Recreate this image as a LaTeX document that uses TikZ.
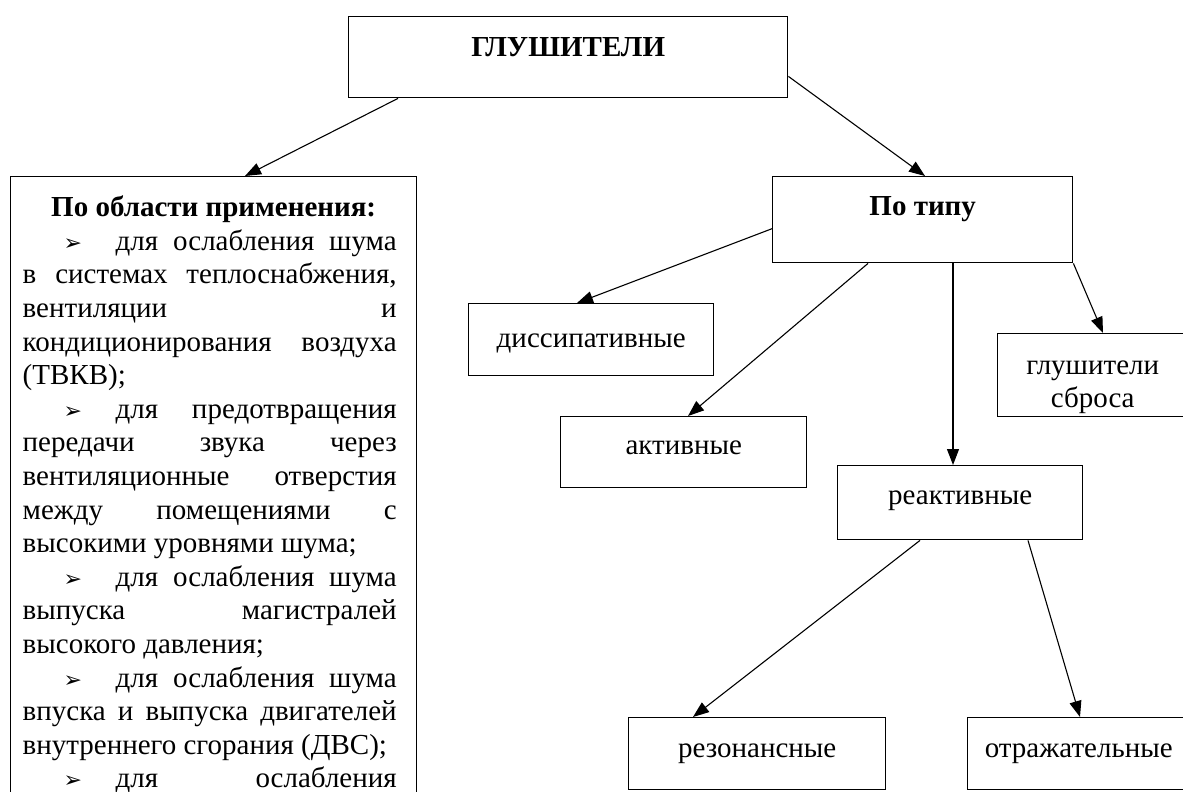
\documentclass[tikz,border=0pt]{standalone}
\usepackage{fontspec}
\setmainfont{Liberation Serif}
\newfontfamily\arrowfont{DejaVu Sans}
\usetikzlibrary{arrows.meta}

\newcommand{\bul}{\leavevmode\hspace*{41pt}\makebox[52pt][l]{\arrowfont\fontsize{22pt}{22pt}\selectfont ➢}}

\begin{document}
\begin{tikzpicture}
                [x=1pt, y=-1pt,
                 box/.style={draw, line width=1.4pt, inner sep=0pt, anchor=north west, font=\rmfamily\fontsize{29pt}{33.6pt}\selectfont},
                 arr/.style={draw, line width=1.1pt, -{Triangle[length=16pt, width=12pt]}}]
                \useasboundingbox (0,0) rectangle (1183,792);
                \clip (0,0) rectangle (1183,792);
                % Define nodes
                \node[box, minimum width=439pt, text height=40pt, text depth=41pt] (glush) at (348,16) {\bfseries ГЛУШИТЕЛИ};
                \node[box, text width=382pt, inner xsep=12pt, inner ysep=16pt, align=justify] (oblast) at (10,176) {%
                    \rightskip=8pt \parindent=0pt \tolerance=10000 \hbadness=10000 \hyphenpenalty=10000
                    \centerline{\rule{0pt}{24pt}\bfseries По области применения:}
                    \bul для ослабления шума\linebreak
                    в системах теплоснабжения,\linebreak
                    вентиляции и\linebreak
                    кондиционирования воздуха\linebreak
                    (ТВКВ);\par
                    \bul для предотвращения\linebreak
                    передачи звука через\linebreak
                    вентиляционные отверстия\linebreak
                    между помещениями с\linebreak
                    высокими уровнями шума;\par
                    \bul для ослабления шума\linebreak
                    выпуска магистралей\linebreak
                    высокого давления;\par
                    \bul для ослабления шума\linebreak
                    впуска и выпуска двигателей\linebreak
                    внутреннего сгорания (ДВС);\par
                    \bul для \hspace{0pt plus 1filll}ослабления\par};
                \node[box, minimum width=300pt, text height=39pt, text depth=47pt] (tip) at (772,176) {\bfseries По типу};
                \node[box, minimum width=245pt, text height=44pt, text depth=28pt] (dissip) at (468,303) {диссипативные};
                \node[box, minimum width=246pt, text height=38pt, text depth=33pt] (aktiv) at (560,416) {активные};
                \node[box, minimum width=190pt, minimum height=83pt, align=center] (sbros) at (997,333) {\rule{0pt}{38pt}глушители\\сброса};
                \node[box, minimum width=245pt, text height=39pt, text depth=35pt] (reakt) at (837,465) {реактивные};
                \node[box, minimum width=257pt, text height=40pt, text depth=32pt] (rezon) at (628,717) {резонансные};
                \node[box, minimum width=222pt, text height=40pt, text depth=32pt] (otrazh) at (967,717) {отражательные};
                % Define edges
                \draw[arr] ([xshift=50pt]glush.south west) -- ([xshift=235pt]oblast.north west);
                \draw[arr] ([yshift=22pt]glush.south east) -- ([xshift=153pt]tip.north west);
                \draw[arr] ([yshift=-9pt]tip.west) -- ([xshift=109pt]dissip.north west);
                \draw[arr] ([xshift=96pt]tip.south west) -- ([xshift=128pt]aktiv.north west);
                \draw[arr] ([xshift=181pt]tip.south west) -- ([xshift=116pt]reakt.north west);
                \draw[arr] (tip.south east) -- ([xshift=106pt]sbros.north west);
                \draw[arr] ([xshift=83pt]reakt.south west) -- ([xshift=65pt]rezon.north west);
                \draw[arr] ([xshift=191pt]reakt.south west) -- ([xshift=113pt]otrazh.north west);
\end{tikzpicture}
\end{document}
